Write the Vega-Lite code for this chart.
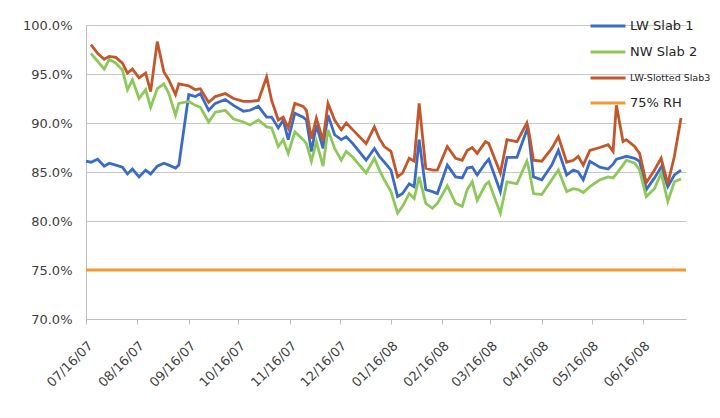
{
  "$schema": "https://vega.github.io/schema/vega-lite/v6.json",
  "width": 600,
  "height": 294,
  "padding": {"left": 22, "top": 7, "right": 5, "bottom": 5},
  "background": "white",
  "data": {
    "values": [
      {"date": "2007-07-16", "lw1": 86.1, "rh": 75},
      {"date": "2007-07-19", "lw1": 86.0, "nw2": 97.1, "lws3": 98.0},
      {"date": "2007-07-23", "lw1": 86.3, "nw2": 96.3, "lws3": 97.1},
      {"date": "2007-07-27", "lw1": 85.6, "nw2": 95.5, "lws3": 96.5},
      {"date": "2007-07-30", "lw1": 85.9, "nw2": 96.5, "lws3": 96.8},
      {"date": "2007-08-03", "lw1": 85.7, "nw2": 96.1, "lws3": 96.7},
      {"date": "2007-08-07", "lw1": 85.5, "nw2": 95.4, "lws3": 96.1},
      {"date": "2007-08-10", "lw1": 84.8, "nw2": 93.4, "lws3": 95.1},
      {"date": "2007-08-13", "lw1": 85.3, "nw2": 94.4, "lws3": 95.5},
      {"date": "2007-08-17", "lw1": 84.5, "nw2": 92.5, "lws3": 94.6},
      {"date": "2007-08-21", "lw1": 85.2, "nw2": 93.4, "lws3": 95.1},
      {"date": "2007-08-24", "lw1": 84.8, "nw2": 91.6, "lws3": 93.2},
      {"date": "2007-08-28", "lw1": 85.6, "nw2": 93.5, "lws3": 98.3},
      {"date": "2007-09-01", "lw1": 85.9, "nw2": 94.0, "lws3": 95.2},
      {"date": "2007-09-04", "lw1": 85.7, "nw2": 93.0, "lws3": 94.4},
      {"date": "2007-09-08", "lw1": 85.4, "nw2": 90.8, "lws3": 92.9},
      {"date": "2007-09-10", "lw1": 85.7, "nw2": 92.0, "lws3": 94.0},
      {"date": "2007-09-16", "lw1": 92.9, "nw2": 92.2, "lws3": 93.8},
      {"date": "2007-09-20", "lw1": 92.7, "nw2": 91.8, "lws3": 93.4},
      {"date": "2007-09-23", "lw1": 93.0, "nw2": 91.6, "lws3": 93.5},
      {"date": "2007-09-28", "lw1": 91.3, "nw2": 90.1, "lws3": 92.1},
      {"date": "2007-10-02", "lw1": 92.0, "nw2": 91.1, "lws3": 92.7},
      {"date": "2007-10-08", "lw1": 92.4, "nw2": 91.3, "lws3": 93.0},
      {"date": "2007-10-13", "lw1": 91.8, "nw2": 90.4, "lws3": 92.5},
      {"date": "2007-10-19", "lw1": 91.2, "nw2": 90.1, "lws3": 92.2},
      {"date": "2007-10-23", "lw1": 91.3, "nw2": 89.8, "lws3": 92.2},
      {"date": "2007-10-28", "lw1": 91.7, "nw2": 90.3, "lws3": 92.3},
      {"date": "2007-11-02", "lw1": 90.6, "nw2": 89.6, "lws3": 94.7},
      {"date": "2007-11-05", "lw1": 90.6, "nw2": 89.5, "lws3": 92.3},
      {"date": "2007-11-09", "lw1": 89.5, "nw2": 87.6, "lws3": 90.3},
      {"date": "2007-11-12", "lw1": 90.3, "nw2": 88.3, "lws3": 90.6},
      {"date": "2007-11-15", "lw1": 88.3, "nw2": 86.9, "lws3": 89.5},
      {"date": "2007-11-19", "lw1": 91.0, "nw2": 89.1, "lws3": 92.0},
      {"date": "2007-11-24", "lw1": 90.6, "nw2": 88.3, "lws3": 91.7},
      {"date": "2007-11-26", "lw1": 90.3, "nw2": 87.9, "lws3": 91.3},
      {"date": "2007-11-29", "lw1": 87.1, "nw2": 86.1, "lws3": 88.4},
      {"date": "2007-12-02", "lw1": 89.8, "nw2": 88.1, "lws3": 90.5},
      {"date": "2007-12-06", "lw1": 87.4, "nw2": 85.6, "lws3": 88.2},
      {"date": "2007-12-09", "lw1": 90.8, "nw2": 89.3, "lws3": 92.0},
      {"date": "2007-12-13", "lw1": 88.8, "nw2": 87.4, "lws3": 90.3},
      {"date": "2007-12-17", "lw1": 88.3, "nw2": 86.2, "lws3": 89.3},
      {"date": "2007-12-20", "lw1": 88.6, "nw2": 87.1, "lws3": 90.0},
      {"date": "2007-12-24", "lw1": 87.9, "nw2": 86.5, "lws3": 89.3},
      {"date": "2008-01-01", "lw1": 86.2, "nw2": 84.9, "lws3": 87.9},
      {"date": "2008-01-06", "lw1": 87.4, "nw2": 86.4, "lws3": 89.6},
      {"date": "2008-01-09", "lw1": 86.6, "nw2": 85.2, "lws3": 88.4},
      {"date": "2008-01-12", "lw1": 86.0, "nw2": 84.2, "lws3": 87.6},
      {"date": "2008-01-16", "lw1": 85.2, "nw2": 83.0, "lws3": 87.1},
      {"date": "2008-01-20", "lw1": 82.5, "nw2": 80.8, "lws3": 84.5},
      {"date": "2008-01-23", "lw1": 82.8, "nw2": 81.5, "lws3": 84.9},
      {"date": "2008-01-27", "lw1": 83.8, "nw2": 82.8, "lws3": 86.4},
      {"date": "2008-01-30", "lw1": 83.5, "nw2": 82.3, "lws3": 86.1},
      {"date": "2008-02-02", "lw1": 88.3, "nw2": 84.5, "lws3": 92.0},
      {"date": "2008-02-06", "lw1": 83.2, "nw2": 81.8, "lws3": 85.4},
      {"date": "2008-02-10", "lw1": 83.0, "nw2": 81.3, "lws3": 85.2},
      {"date": "2008-02-13", "lw1": 82.8, "nw2": 81.8, "lws3": 85.2},
      {"date": "2008-02-19", "lw1": 85.7, "nw2": 83.6, "lws3": 87.6},
      {"date": "2008-02-24", "lw1": 84.5, "nw2": 81.8, "lws3": 86.4},
      {"date": "2008-02-28", "lw1": 84.4, "nw2": 81.5, "lws3": 86.2},
      {"date": "2008-03-02", "lw1": 85.4, "nw2": 83.2, "lws3": 87.2},
      {"date": "2008-03-05", "lw1": 85.5, "nw2": 84.0, "lws3": 87.5},
      {"date": "2008-03-08", "lw1": 84.7, "nw2": 82.1, "lws3": 86.9},
      {"date": "2008-03-13", "lw1": 85.9, "nw2": 83.7, "lws3": 88.1},
      {"date": "2008-03-15", "lw1": 86.3, "nw2": 84.0, "lws3": 87.9},
      {"date": "2008-03-22", "lw1": 83.0, "nw2": 80.8, "lws3": 84.9},
      {"date": "2008-03-26", "lw1": 86.5, "nw2": 84.0, "lws3": 88.3},
      {"date": "2008-04-01", "lw1": 86.5, "nw2": 83.8, "lws3": 88.1},
      {"date": "2008-04-07", "lw1": 89.3, "nw2": 86.1, "lws3": 90.0},
      {"date": "2008-04-08", "lw1": 88.9, "nw2": 85.5, "lws3": 89.3},
      {"date": "2008-04-11", "lw1": 84.5, "nw2": 82.8, "lws3": 86.2},
      {"date": "2008-04-16", "lw1": 84.2, "nw2": 82.7, "lws3": 86.1},
      {"date": "2008-04-22", "lw1": 85.7, "nw2": 84.2, "lws3": 87.4},
      {"date": "2008-04-26", "lw1": 87.2, "nw2": 85.2, "lws3": 88.6},
      {"date": "2008-05-01", "lw1": 84.7, "nw2": 83.0, "lws3": 86.0},
      {"date": "2008-05-05", "lw1": 85.2, "nw2": 83.3, "lws3": 86.2},
      {"date": "2008-05-08", "lw1": 85.0, "nw2": 83.2, "lws3": 86.6},
      {"date": "2008-05-11", "lw1": 84.2, "nw2": 82.9, "lws3": 85.7},
      {"date": "2008-05-15", "lw1": 86.1, "nw2": 83.5, "lws3": 87.2},
      {"date": "2008-05-21", "lw1": 85.5, "nw2": 84.2, "lws3": 87.5},
      {"date": "2008-05-26", "lw1": 85.3, "nw2": 84.5, "lws3": 87.8},
      {"date": "2008-05-29", "lw1": 85.8, "nw2": 84.4, "lws3": 87.1},
      {"date": "2008-05-31", "lw1": 86.3, "nw2": 84.8, "lws3": 91.8},
      {"date": "2008-06-04", "lw1": 86.5, "nw2": 85.7, "lws3": 88.1},
      {"date": "2008-06-06", "lw1": 86.6, "nw2": 86.2, "lws3": 88.3},
      {"date": "2008-06-11", "lw1": 86.4, "nw2": 85.9, "lws3": 87.6},
      {"date": "2008-06-14", "lw1": 86.1, "nw2": 85.2, "lws3": 86.9},
      {"date": "2008-06-18", "lw1": 83.2, "nw2": 82.5, "lws3": 83.9},
      {"date": "2008-06-23", "lw1": 84.4, "nw2": 83.3, "lws3": 85.2},
      {"date": "2008-06-27", "lw1": 85.5, "nw2": 84.9, "lws3": 86.4},
      {"date": "2008-07-01", "lw1": 83.5, "nw2": 82.0, "lws3": 83.8},
      {"date": "2008-07-05", "lw1": 84.7, "nw2": 84.0, "lws3": 86.6},
      {"date": "2008-07-09", "lw1": 85.2, "nw2": 84.3, "lws3": 90.5},
      {"date": "2008-07-12", "rh": 75}
    ]
  },
  "transform": [
    {"fold": ["lw1", "nw2", "lws3", "rh"], "as": ["series", "value"]},
    {"filter": "isValid(datum.value)"}
  ],
  "mark": {"type": "line", "strokeWidth": 2.8, "invalid": "filter"},
  "encoding": {
    "x": {
      "field": "date",
      "type": "temporal",
      "scale": {
        "type": "utc",
        "domain": [
          {"year": 2007, "month": 7, "date": 16, "utc": true},
          {"year": 2008, "month": 7, "date": 12, "utc": true}
        ]
      },
      "axis": {
        "title": null,
        "format": "%m/%d/%y",
        "values": [
          {"year": 2007, "month": 7, "date": 16, "utc": true},
          {"year": 2007, "month": 8, "date": 16, "utc": true},
          {"year": 2007, "month": 9, "date": 16, "utc": true},
          {"year": 2007, "month": 10, "date": 16, "utc": true},
          {"year": 2007, "month": 11, "date": 16, "utc": true},
          {"year": 2007, "month": 12, "date": 16, "utc": true},
          {"year": 2008, "month": 1, "date": 16, "utc": true},
          {"year": 2008, "month": 2, "date": 16, "utc": true},
          {"year": 2008, "month": 3, "date": 16, "utc": true},
          {"year": 2008, "month": 4, "date": 16, "utc": true},
          {"year": 2008, "month": 5, "date": 16, "utc": true},
          {"year": 2008, "month": 6, "date": 16, "utc": true}
        ],
        "labelAngle": -45,
        "labelOverlap": false,
        "labelPadding": 15,
        "tickSize": 5,
        "grid": false
      }
    },
    "y": {
      "field": "value",
      "type": "quantitative",
      "scale": {"domain": [70, 100]},
      "axis": {
        "title": null,
        "values": [70, 75, 80, 85, 90, 95, 100],
        "labelExpr": "format(datum.value, '.1f') + '%'",
        "ticks": false,
        "labelPadding": 14,
        "grid": true
      }
    },
    "color": {
      "field": "series",
      "type": "nominal",
      "scale": {
        "domain": ["lw1", "nw2", "lws3", "rh"],
        "range": ["#3B6BC6", "#8FC85A", "#C2572B", "#F29A33"]
      },
      "legend": {
        "title": null,
        "orient": "none",
        "legendX": 503,
        "legendY": -18,
        "symbolType": "stroke",
        "symbolSize": 1225,
        "symbolStrokeWidth": 3,
        "labelOffset": 3,
        "rowPadding": -7,
        "labelFontSize": 13,
        "labelExpr": "datum.value == 'lw1' ? 'LW Slab 1' : datum.value == 'nw2' ? 'NW Slab 2' : datum.value == 'lws3' ? 'LW-Slotted Slab3' : '75% RH'",
        "encode": {
          "labels": {
            "update": {
              "fontSize": {"signal": "datum.value == 'lws3' ? 9.5 : 13"}
            }
          }
        }
      }
    }
  },
  "config": {
    "view": {"stroke": null},
    "font": "DejaVu Sans",
    "axis": {
      "labelFont": "DejaVu Sans",
      "labelFontSize": 13,
      "labelColor": "#404040",
      "domainColor": "#BFBFBF",
      "tickColor": "#BFBFBF",
      "gridColor": "#C8C8C8",
      "gridWidth": 1
    },
    "legend": {
      "labelFont": "DejaVu Sans",
      "labelColor": "#262626"
    }
  }
}
